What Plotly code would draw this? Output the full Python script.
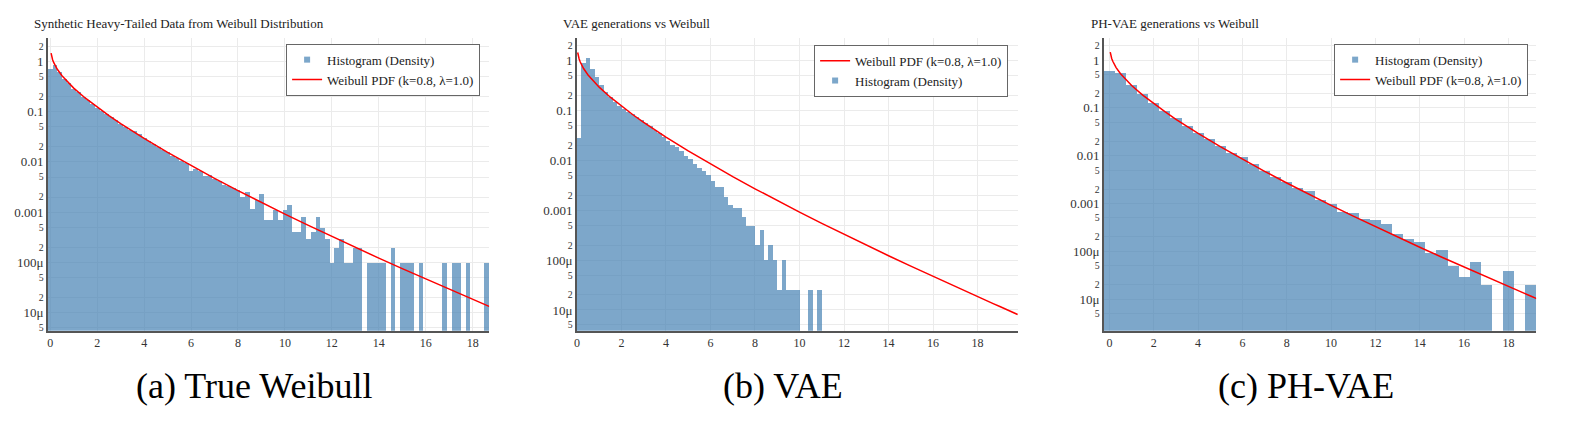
import plotly.graph_objects as go

# ---------------- data ----------------
# Weibull PDF (k=0.8, lambda=1.0) read at these x positions
pdf_x = [0.035, 0.06, 0.1, 0.15, 0.2, 0.3, 0.5, 0.75, 1.0, 1.5, 2.0, 2.5, 3.0, 4.0, 5.0, 6.0,
         7.0, 8.0, 9.0, 10.0, 11.0, 12.0, 13.0, 14.0, 15.0, 16.0, 17.0, 18.0, 18.7, 19.0,
         19.25, 19.8]
pdf_y = [1.46, 1.26, 1.08, 0.94, 0.84, 0.695, 0.518, 0.383, 0.294, 0.185, 0.122, 0.0832,
         0.0578, 0.0293, 0.0155, 0.00844, 0.00472, 0.00269, 0.00156, 0.000918, 0.000546,
         0.000328, 0.000199, 0.000122, 7.56e-05, 4.69e-05, 2.94e-05, 1.85e-05, 1.34e-05,
         1.17e-05, 1.05e-05, 8.1e-06]

# (a) True Weibull histogram, bins of 0.2 starting at -0.1
true_bin_start, true_bin_width = -0.1, 0.2
true_density = [
    0.73, 0.86, 0.61, 0.46, 0.37, 0.29, 0.245, 0.20, 0.17, 0.145,
    0.122, 0.104, 0.090, 0.078, 0.068, 0.058, 0.050, 0.044, 0.041, 0.036,
    0.030, 0.027, 0.023, 0.020, 0.0178, 0.0156, 0.0135, 0.0122, 0.0105, 0.0096,
    0.0068, 0.0074, 0.0066, 0.0052, 0.0056, 0.0047, 0.0043, 0.0036, 0.0033, 0.0030,
    0.0028, 0.0020, 0.0026, 0.0012, 0.0018, 0.0023, 0.0007, 0.0007, 0.0011, 0.0007,
    0.0011, 0.0014, 0.0004, 0.0004, 0.0008, 0.0003, 0.0004, 0.0008, 0.0005, 0.0003,
    0.0001, 0.0002, 0.0003, 0.0001, 0.0001, 0.0002, 0.0002, None, 0.0001, 0.0001,
    0.0001, 0.0001, None, 0.0002, None, 0.0001, 0.0001, 0.0001, None, 0.0001,
    None, None, None, None, 0.0001, None, 0.0001, 0.0001, None, 0.0001,
    None, None, None, 0.0001,
]

# (b) VAE generations histogram, bins of 0.2 starting at 0
vae_bin_start, vae_bin_width = 0.0, 0.2
vae_density = [
    0.028, 0.93, 1.13, 0.68, 0.466, 0.332, 0.24, 0.186, 0.152, 0.126,
    0.108, 0.096, 0.087, 0.075, 0.0655, 0.057, 0.049, 0.042, 0.036, 0.0305,
    0.0246, 0.0202, 0.0192, 0.0153, 0.0123, 0.0106, 0.0087, 0.0072, 0.0061, 0.0051,
    0.0039, 0.0029, 0.0029, 0.0019, 0.00127, 0.0011, 0.0011, 0.00075, 0.00049, 0.00049,
    0.0002, 0.0004, 0.0001, 0.0002, 0.0001, 0.000025, 0.0001, 0.000025, 0.000025, 0.000025,
    None, None, 0.000025, None, 0.000025,
]

# (c) PH-VAE generations histogram, bins of 0.5 starting at -0.25
ph_bin_start, ph_bin_width = -0.25, 0.5
ph_density = [
    0.61, 0.53, 0.30, 0.194, 0.13, 0.087, 0.062, 0.043, 0.030, 0.0226,
    0.016, 0.0116, 0.0094, 0.0069, 0.0049, 0.0037, 0.0029, 0.0021, 0.00185, 0.00123,
    0.00099, 0.00068, 0.00064, 0.00048, 0.00045, 0.00037, 0.00023, 0.00018, 0.00016, 0.000095,
    0.00011, 0.00005, 0.00003, 0.00006, 0.00002, None, 0.00004, None, 0.00002,
]

titles = ["Synthetic Heavy-Tailed Data from Weibull Distribution",
          "VAE generations vs Weibull",
          "PH-VAE generations vs Weibull"]
captions = ["(a) True Weibull", "(b) VAE", "(c) PH-VAE"]
hist_name = "Histogram (Density)"
pdf_name = "Weibull PDF (k=0.8, \u03bb=1.0)"

# ---------------- layout constants ----------------
W, H = 1594, 421
FONT = "Liberation Serif"
BAR_COLOR = "steelblue"
GRID = "#ebebeb"
AXIS_LINE = "#555"

x_px = [(45, 487), (575, 1017), (1103, 1536)]
x_ranges = [[-0.1, 18.7], [0.0, 19.82], [-0.25, 19.25]]
y_ranges = [[-5.355, 0.47], [-5.415, 0.46], [-5.656, 0.466]]
title_px = [29, 559, 1088]
caption_px = [251.7, 781.7, 1305.8]
legend_px = [(478, 44), (1007, 45), (1528, 44)]
plot_top, plot_bottom = 38, 333

fig = go.Figure()

panels = [
    (true_bin_start, true_bin_width, true_density, False),
    (vae_bin_start, vae_bin_width, vae_density, True),
    (ph_bin_start, ph_bin_width, ph_density, False),
]

for i, (b0, bw, dens, line_first) in enumerate(panels):
    n = "" if i == 0 else str(i + 1)
    xa, ya = "x" + n, "y" + n
    leg = "legend" + n
    centers = [b0 + bw * (j + 0.5) for j in range(len(dens))]

    bar = go.Bar(x=centers, y=dens, width=bw, xaxis=xa, yaxis=ya,
                 marker=dict(color=BAR_COLOR, line=dict(width=0)), opacity=0.7,
                 showlegend=False, name=hist_name)
    hist_leg = go.Scatter(x=[None], y=[None], xaxis=xa, yaxis=ya, mode="markers",
                          marker=dict(symbol="square", size=6, color=BAR_COLOR),
                          opacity=0.7, name=hist_name, legend=leg)
    line = go.Scatter(x=pdf_x, y=pdf_y, xaxis=xa, yaxis=ya, mode="lines",
                      line=dict(color="red", width=1.5), name=pdf_name, legend=leg)
    fig.add_trace(bar)
    if line_first:
        fig.add_trace(line)
        fig.add_trace(hist_leg)
    else:
        fig.add_trace(hist_leg)
        fig.add_trace(line)

layout = dict(
    width=W, height=H, margin=dict(l=0, r=0, t=0, b=0),
    paper_bgcolor="white", plot_bgcolor="white",
    font=dict(family=FONT, color="#333", size=13),
    bargap=0, showlegend=True,
)

ydom = [1 - plot_bottom / H, 1 - plot_top / H]
annotations = []
for i in range(3):
    n = "" if i == 0 else str(i + 1)
    layout["xaxis" + n] = dict(
        domain=[x_px[i][0] / W, x_px[i][1] / W], range=x_ranges[i],
        anchor="y" + n, tick0=0, dtick=2, showgrid=True, gridcolor=GRID,
        showline=True, linecolor=AXIS_LINE, linewidth=1.5, zeroline=False,
        tickfont=dict(family=FONT, size=12, color="#333"), ticks="",
    )
    layout["yaxis" + n] = dict(
        domain=ydom, type="log", range=y_ranges[i], anchor="x" + n,
        dtick="D2", showgrid=True, gridcolor=GRID, showline=True,
        linecolor=AXIS_LINE, linewidth=1.5, zeroline=False,
        tickfont=dict(family=FONT, size=13, color="#333"), ticks="",
    )
    layout["legend" + n] = dict(
        x=legend_px[i][0] / W, y=1 - legend_px[i][1] / H,
        xanchor="right", yanchor="top", bgcolor="white",
        bordercolor="#666", borderwidth=1,
        font=dict(family=FONT, size=13, color="#222"),
    )
    annotations.append(dict(
        text=titles[i], x=title_px[i] / W, y=1 - 23.3 / H, xref="paper", yref="paper",
        xanchor="left", yanchor="middle", showarrow=False,
        font=dict(family=FONT, size=13, color="#222"),
    ))
    annotations.append(dict(
        text=captions[i], x=caption_px[i] / W, y=1 - 389 / H, xref="paper", yref="paper",
        xanchor="center", yanchor="middle", showarrow=False,
        font=dict(family=FONT, size=36, color="black"),
    ))
layout["annotations"] = annotations

fig.update_layout(**layout)
fig.write_html("out.html")
